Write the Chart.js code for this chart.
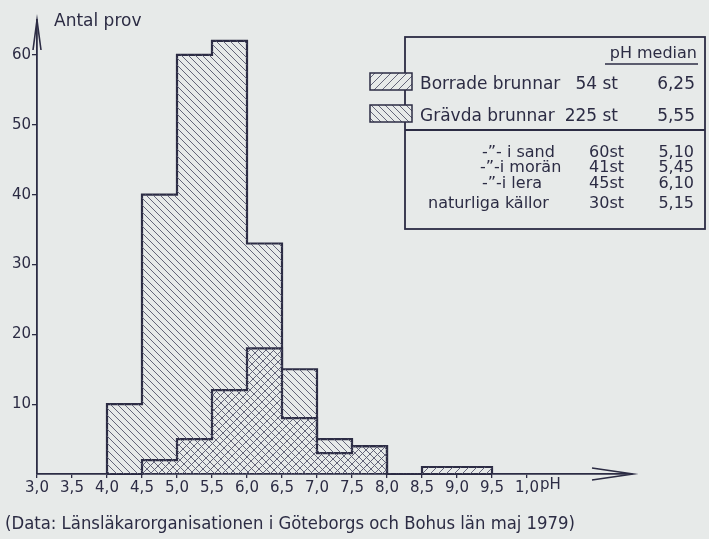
<!DOCTYPE html>
<html>
<head>
<meta charset="utf-8">
<script src="https://cdn.jsdelivr.net/npm/chart.js@4/dist/chart.umd.min.js"></script>
<style>
  html, body { margin: 0; padding: 0; background: #e7eae9; }
  canvas { display: block; }
</style>
</head>
<body>
<canvas id="chart" width="709" height="539"></canvas>
<script>
// Klassgränser: början av varje pH-intervall (bredd 0,5)
const binStarts = [4.0, 4.5, 5.0, 5.5, 6.0, 6.5, 7.0, 7.5, 8.0, 8.5, 9.0];
const BIN_WIDTH = 0.5;

// Antal prov per intervall
const gravdaCounts  = [10, 40, 60, 62, 33, 15, 5, 4, 0, 0, 0];
const borradeCounts = [ 0,  2,  5, 12, 18,  8, 3, 4, 0, 1, 1];

// Axlar
const xTickValues = [3.0, 3.5, 4.0, 4.5, 5.0, 5.5, 6.0, 6.5, 7.0, 7.5, 8.0, 8.5, 9.0, 9.5, 10.0];
const xTickLabels = ['3,0', '3,5', '4,0', '4,5', '5,0', '5,5', '6,0', '6,5', '7,0', '7,5', '8,0', '8,5', '9,0', '9,5', '1,0'];
const yTickValues = [10, 20, 30, 40, 50, 60];
const yTitle = 'Antal prov';
const xUnit = 'pH';

// Teckenförklaring
const legendHeader = 'pH median';
const legendMain = [
    ['Borrade brunnar', '54 st', '6,25'],
    ['Grävda brunnar', '225 st', '5,55']
];
const legendSub = [
    ['-”- i sand', '60st', '5,10'],
    ['-”-i morän', '41st', '5,45'],
    ['-”-i lera', '45st', '6,10'],
    ['naturliga källor', '30st', '5,15']
];
const sourceNote = '(Data: Länsläkarorganisationen i Göteborgs och Bohus län maj 1979)';

// Färger
const INK = '#2c2c44';
const HATCH = '#55566c';
const PAPER = '#e7eae9';
const FONT = "'DejaVu Sans', sans-serif";

// Skrafferingsmönster
function hatch(size, dir) {
    const c = document.createElement('canvas');
    c.width = c.height = size;
    const g = c.getContext('2d');
    g.strokeStyle = HATCH;
    g.lineWidth = 0.9;
    g.beginPath();
    if (dir > 0) { // '/'
        g.moveTo(0, size); g.lineTo(size, 0);
        g.moveTo(-1, 1); g.lineTo(1, -1);
        g.moveTo(size - 1, size + 1); g.lineTo(size + 1, size - 1);
    } else {       // '\'
        g.moveTo(0, 0); g.lineTo(size, size);
        g.moveTo(-1, size - 1); g.lineTo(1, size + 1);
        g.moveTo(size - 1, -1); g.lineTo(size + 1, 1);
    }
    g.stroke();
    return g.createPattern(c, 'repeat');
}
const borradePattern = hatch(8, 1);
const gravdaPattern = hatch(7, -1);

// Staplar (mitt av intervallet) och trappstegskontur
const toBars = counts => binStarts.map((s, i) => ({x: s + BIN_WIDTH / 2, y: counts[i]}));
const toOutline = counts => [
    {x: binStarts[0], y: 0},
    ...binStarts.map((s, i) => ({x: s, y: counts[i]})),
    {x: binStarts[binStarts.length - 1] + BIN_WIDTH, y: 0}
];

// Text som trycks ihop horisontellt till en given bredd
function fitText(ctx, text, x, y, width, size, align) {
    ctx.save();
    ctx.font = size + 'px ' + FONT;
    const w = ctx.measureText(text).width;
    const sx = Math.min(1, width / w);
    ctx.translate(x, y);
    ctx.scale(sx, 1);
    ctx.textAlign = align || 'left';
    ctx.fillText(text, 0, 0);
    ctx.restore();
}

const extras = {
    id: 'extras',
    afterDraw(chart) {
        const ctx = chart.ctx;
        const xs = chart.scales.x, ys = chart.scales.y;
        const x0 = xs.left, yb = ys.bottom;
        ctx.save();
        ctx.strokeStyle = INK;
        ctx.fillStyle = INK;
        ctx.lineWidth = 1.6;

        // Pilspetsar
        ctx.beginPath();
        ctx.moveTo(xs.right - 40, yb - 6); ctx.lineTo(xs.right + 1, yb); ctx.lineTo(xs.right - 40, yb + 6);
        ctx.moveTo(x0 - 4, ys.top + 30); ctx.lineTo(x0, ys.top); ctx.lineTo(x0 + 4, ys.top + 30);
        ctx.stroke();

        // Axeltitlar
        ctx.textBaseline = 'middle';
        ctx.font = '17px ' + FONT;
        ctx.fillText(yTitle, x0 + 17, 22);
        ctx.font = '15px ' + FONT;
        ctx.fillText(xUnit, xs.getPixelForValue(10.0) + 13, 485);

        // Teckenförklaring
        const bx = 405, by = 37, bw = 300, bh = 192;
        ctx.lineWidth = 1.8;
        ctx.strokeRect(bx, by, bw, bh);
        ctx.beginPath();
        ctx.moveTo(bx, 130); ctx.lineTo(bx + bw, 130);
        ctx.stroke();

        ctx.font = '16px ' + FONT;
        ctx.textAlign = 'right';
        ctx.fillText(legendHeader, 697, 54);
        ctx.lineWidth = 1.3;
        ctx.beginPath();
        ctx.moveTo(605, 64); ctx.lineTo(698, 64);
        ctx.stroke();

        const swatches = [borradePattern, gravdaPattern];
        const rowY = [85, 117];
        legendMain.forEach((row, i) => {
            const sy = rowY[i] - 12;
            ctx.fillStyle = PAPER;
            ctx.fillRect(370, sy, 42, 17);
            ctx.fillStyle = swatches[i];
            ctx.fillRect(370, sy, 42, 17);
            ctx.lineWidth = 1.5;
            ctx.strokeRect(370, sy, 42, 17);
            ctx.fillStyle = INK;
            fitText(ctx, row[0], 420, rowY[i], 150, 17, 'left');
            fitText(ctx, row[1], 618, rowY[i], 60, 17, 'right');
            fitText(ctx, row[2], 695, rowY[i], 60, 17, 'right');
        });

        const subY = [153, 168, 184, 204];
        const subX = [482, 480, 482, 428];
        legendSub.forEach((row, i) => {
            fitText(ctx, row[0], subX[i], subY[i], 150, 16, 'left');
            fitText(ctx, row[1], 624, subY[i], 50, 16, 'right');
            fitText(ctx, row[2], 694, subY[i], 50, 16, 'right');
        });

        // Källa
        fitText(ctx, sourceNote, 5, 525, 570, 17, 'left');
        ctx.restore();
    }
};

new Chart(document.getElementById('chart'), {
    type: 'bar',
    data: {
        datasets: [
            {
                label: 'Borrade brunnar',
                data: toBars(borradeCounts),
                backgroundColor: borradePattern,
                borderWidth: 0,
                grouped: false,
                barPercentage: 1,
                categoryPercentage: 1
            },
            {
                label: 'Grävda brunnar',
                data: toBars(gravdaCounts),
                backgroundColor: gravdaPattern,
                borderWidth: 0,
                grouped: false,
                barPercentage: 1,
                categoryPercentage: 1
            },
            {
                type: 'line',
                data: toOutline(gravdaCounts),
                stepped: 'before',
                borderColor: INK,
                borderWidth: 2.2,
                pointRadius: 0,
                fill: false,
                clip: false
            },
            {
                type: 'line',
                data: toOutline(borradeCounts),
                stepped: 'before',
                borderColor: INK,
                borderWidth: 2.2,
                pointRadius: 0,
                fill: false,
                clip: false
            }
        ]
    },
    options: {
        responsive: false,
        animation: false,
        layout: { padding: { top: 20, right: 77, left: 0, bottom: 0 } },
        plugins: { legend: { display: false }, tooltip: { enabled: false } },
        scales: {
            x: {
                type: 'linear',
                min: 3.0,
                max: 11.5,
                offset: false,
                afterBuildTicks: s => { s.ticks = xTickValues.map(v => ({value: v})); },
                afterFit: s => { s.height = 65; },
                ticks: {
                    color: INK,
                    font: { family: FONT, size: 15 },
                    padding: 1,
                    maxRotation: 0,
                    autoSkip: false,
                    callback: (v, i) => xTickLabels[i]
                },
                grid: { display: true, drawOnChartArea: false, drawTicks: true, tickLength: 4, color: INK, lineWidth: 1.3, offset: false },
                border: { display: true, color: INK, width: 1.8 }
            },
            y: {
                min: 0,
                max: 65,
                afterBuildTicks: s => { s.ticks = yTickValues.map(v => ({value: v})); },
                afterFit: s => { s.width = 37; },
                ticks: {
                    color: INK,
                    font: { family: FONT, size: 15 },
                    padding: 1
                },
                grid: { display: true, drawOnChartArea: false, drawTicks: true, tickLength: 5, color: INK, lineWidth: 1.3 },
                border: { display: true, color: INK, width: 1.8 }
            }
        }
    },
    plugins: [extras]
});
</script>
</body>
</html>
